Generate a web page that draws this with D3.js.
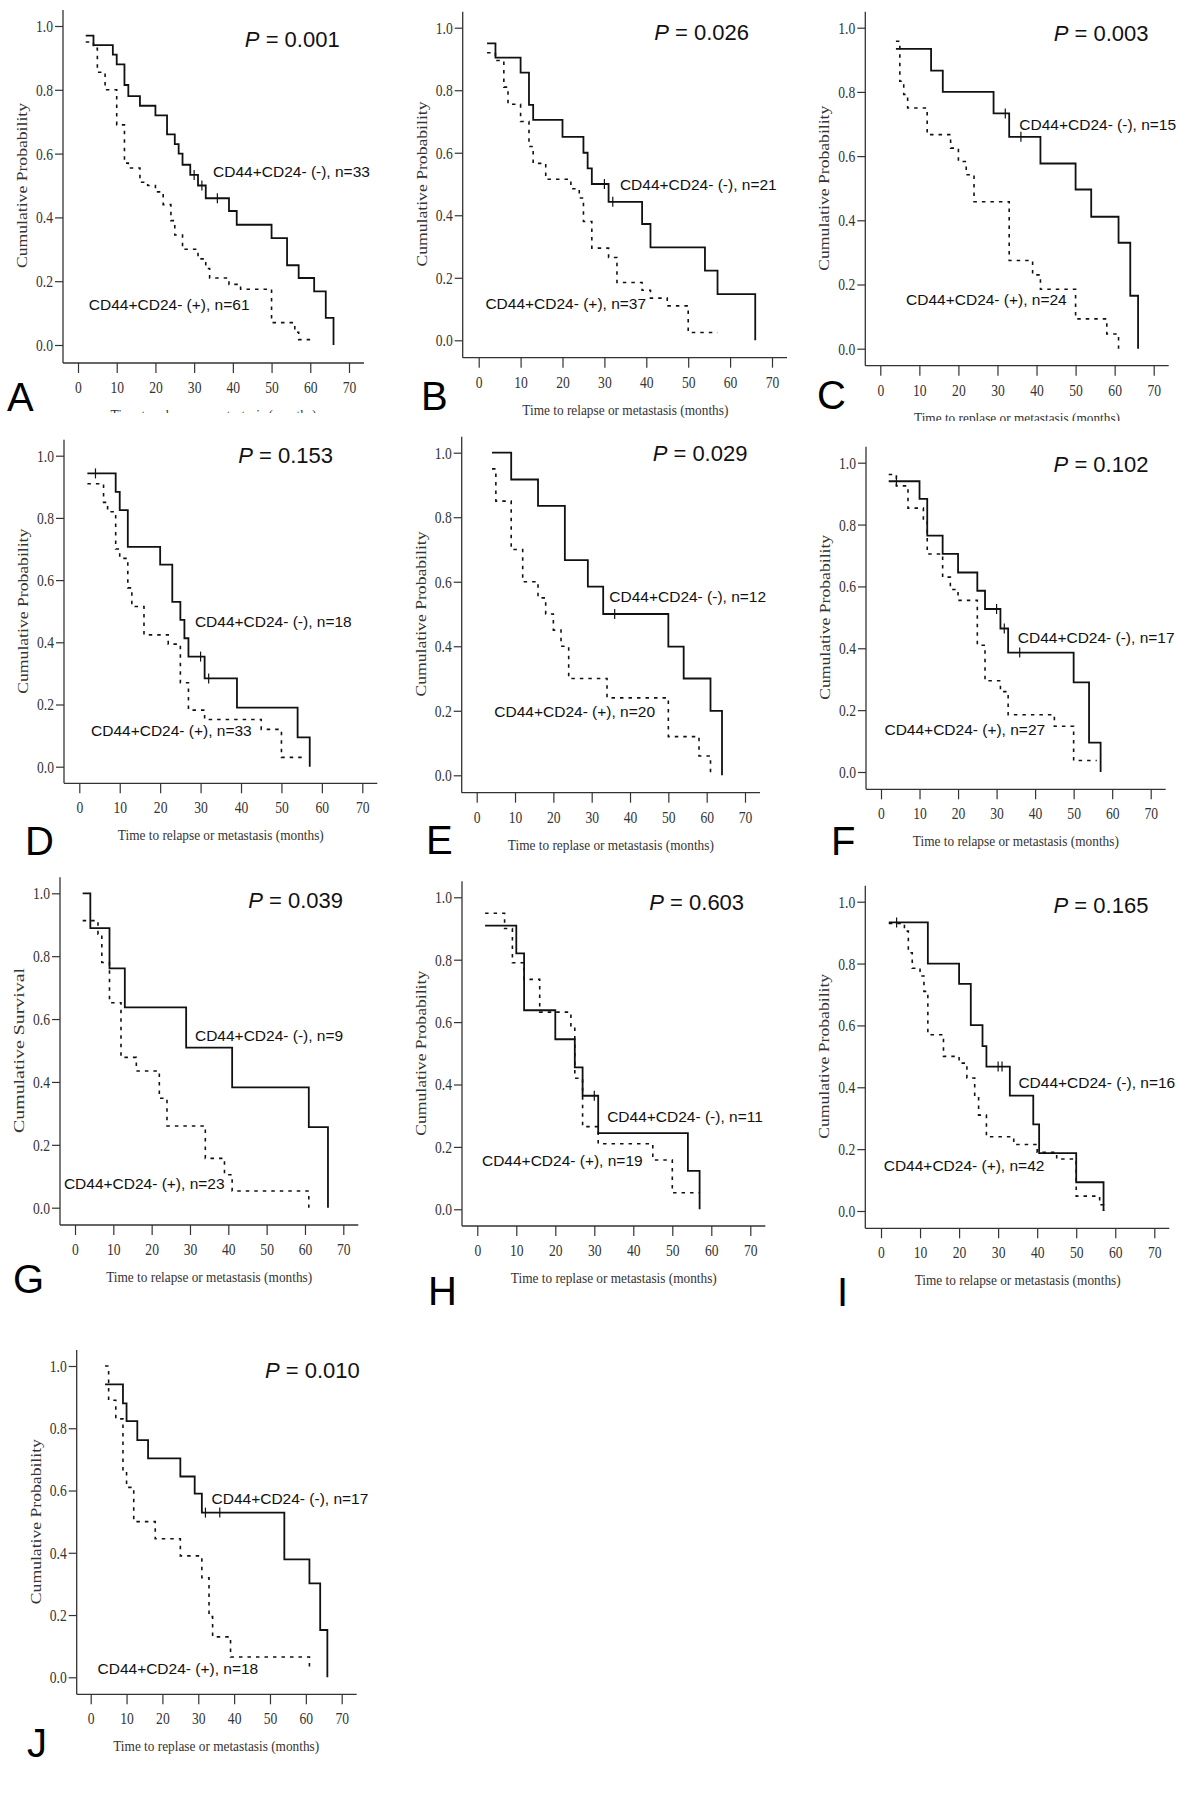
<!DOCTYPE html>
<html>
<head>
<meta charset="utf-8">
<script src="https://cdn.jsdelivr.net/npm/d3@7"></script>
<style>
body{margin:0;background:#fff}
svg{display:block}
</style>
</head>
<body>
<svg id="fig" width="1200" height="1798"></svg>
<script>
"use strict";

//Kaplan-Meier steps: [months, cumulative probability after the step]
//"neg" is CD44+CD24- (-) drawn solid, "pos" is CD44+CD24- (+) drawn dashed
var stepsA_neg = [[2,0.97],[4,0.94],[9,0.91],[10,0.88],[12,0.815],[13,0.78],[16,0.75],[20,0.72],[23,0.66],[25,0.63],[26,0.60],[27,0.565],[29,0.533],[31,0.50],[33,0.46],[39,0.42],[41,0.377],[50,0.335],[54,0.25],[57,0.21],[61,0.168],[64,0.085],[66,0]];
var stepsA_pos = [[2,0.95],[4,0.93],[5,0.855],[7,0.80],[10,0.69],[12,0.57],[13,0.555],[16,0.51],[18,0.50],[20,0.48],[22,0.44],[24,0.39],[25,0.345],[27,0.30],[31,0.27],[33,0.24],[34,0.21],[39,0.19],[42,0.175],[50,0.07],[56,0.04],[57,0.017],[61,0.017]];
var censA_neg = [[30,0.533],[32,0.50],[36,0.46]];

var stepsB_neg = [[2,0.95],[4,0.904],[10,0.856],[12,0.753],[13,0.705],[20,0.651],[25,0.60],[26,0.55],[27,0.50],[31,0.443],[39,0.372],[41,0.297],[54,0.223],[57,0.148],[66,0]];
var stepsB_pos = [[2,0.92],[4,0.895],[6,0.81],[7,0.755],[10,0.70],[12,0.62],[13,0.566],[16,0.515],[22,0.485],[24,0.455],[25,0.38],[27,0.295],[31,0.265],[33,0.185],[39,0.16],[41,0.135],[45,0.11],[50,0.025],[57,0.025]];
var censB_neg = [[30,0.50],[32,0.443]];

var stepsC_neg = [[4,0.934],[13,0.866],[16,0.80],[29,0.733],[33,0.66],[41,0.577],[50,0.496],[54,0.411],[61,0.33],[64,0.165],[66,0]];
var stepsC_pos = [[4,0.958],[5,0.833],[6,0.792],[7,0.75],[12,0.667],[18,0.625],[20,0.583],[22,0.542],[24,0.458],[33,0.275],[39,0.23],[41,0.185],[50,0.093],[58,0.046],[61,0]];
var censC_neg = [[32,0.733],[36,0.66]];

var stepsD_neg = [[2,0.943],[9,0.884],[10,0.825],[12,0.707],[20,0.65],[23,0.53],[25,0.472],[26,0.413],[27,0.354],[31,0.284],[39,0.19],[54,0.094],[57,0]];
var stepsD_pos = [[2,0.91],[6,0.85],[7,0.82],[9,0.70],[10,0.67],[12,0.575],[13,0.515],[16,0.424],[22,0.394],[25,0.27],[27,0.182],[31,0.152],[45,0.12],[50,0.03],[56,0.03]];
var censD_neg = [[4,0.943],[30,0.354],[32,0.284]];

var stepsE_neg = [[4,1.0],[9,0.917],[16,0.835],[23,0.667],[29,0.585],[33,0.50],[50,0.399],[54,0.30],[61,0.20],[64,0]];
var stepsE_pos = [[4,0.95],[5,0.85],[9,0.70],[12,0.60],[16,0.55],[18,0.50],[20,0.45],[22,0.40],[24,0.30],[34,0.24],[50,0.12],[58,0.06],[61,0]];
var censE_neg = [[36,0.50]];

var stepsF_neg = [[2,0.94],[10,0.883],[12,0.764],[16,0.705],[20,0.645],[25,0.586],[27,0.527],[31,0.464],[33,0.386],[50,0.29],[54,0.095],[57,0]];
var stepsF_pos = [[2,0.962],[4,0.925],[7,0.853],[11,0.815],[12,0.705],[16,0.63],[18,0.59],[20,0.555],[25,0.41],[27,0.295],[31,0.26],[33,0.185],[45,0.148],[50,0.037],[56,0.037]];
var censF_neg = [[4,0.94],[30,0.527],[32,0.464],[36,0.386]];

var stepsG_neg = [[2,1.0],[4,0.889],[9,0.761],[13,0.637],[29,0.509],[41,0.383],[61,0.256],[66,0]];
var stepsG_pos = [[2,0.913],[6,0.87],[7,0.78],[9,0.652],[12,0.478],[16,0.435],[22,0.348],[24,0.26],[34,0.157],[39,0.105],[41,0.053],[61,0]];
var censG_neg = [];

var stepsH_neg = [[2,0.909],[10,0.82],[12,0.638],[20,0.545],[25,0.455],[27,0.364],[31,0.244],[54,0.123],[57,0]];
var stepsH_pos = [[2,0.949],[7,0.90],[9,0.79],[12,0.737],[16,0.632],[24,0.58],[25,0.42],[27,0.265],[31,0.21],[45,0.158],[50,0.053],[57,0.053]];
var censH_neg = [[30,0.364]];

var stepsI_neg = [[2,0.933],[12,0.80],[20,0.734],[23,0.601],[26,0.533],[27,0.467],[33,0.373],[39,0.28],[40.5,0.187],[50,0.093],[57,0]];
var stepsI_pos = [[2,0.93],[6,0.905],[7,0.835],[8,0.785],[10,0.76],[11,0.71],[12,0.57],[16,0.50],[20,0.478],[22,0.43],[24,0.37],[25,0.31],[27,0.24],[34,0.215],[40,0.19],[45,0.168],[50,0.048],[56,0.02],[57,0]];
var censI_neg = [[4,0.933],[30,0.467],[31,0.467]];

var stepsJ_neg = [[4,0.941],[9,0.88],[10,0.823],[13,0.762],[16,0.703],[25,0.645],[29,0.59],[31,0.529],[54,0.379],[61,0.302],[64,0.152],[66,0]];
var stepsJ_pos = [[4,1.0],[5,0.89],[7,0.83],[9,0.66],[10,0.61],[12,0.50],[18,0.445],[25,0.39],[31,0.32],[33,0.195],[34,0.13],[39,0.065],[61,0.02]];
var censJ_neg = [[32,0.529],[36,0.529]];

var panelLetters = ["A","B","C","D","E","F","G","H","I","J"];
var pValues = ["0.001","0.026","0.003","0.153","0.029","0.102","0.039","0.603","0.165","0.010"];
var nNeg = [33,21,15,18,12,17,9,11,16,17];
var nPos = [61,37,24,33,20,27,23,19,42,18];
var xTicks = [0,10,20,30,40,50,60,70];
var yTicks = [0,0.2,0.4,0.6,0.8,1.0];
var yTitles = ["Cumulative Probability","Cumulative Probability","Cumulative Probability","Cumulative Probability","Cumulative Probability","Cumulative Probability","Cumulative Survival","Cumulative Probability","Cumulative Probability","Cumulative Probability"];
var xTitles = ["Time to relapse or metastasis (months)","Time to relapse or metastasis (months)","Time to replase or metastasis (months)","Time to relapse or metastasis (months)","Time to replase or metastasis (months)","Time to relapse or metastasis (months)","Time to relapse or metastasis (months)","Time to replase or metastasis (months)","Time to relapse or metastasis (months)","Time to replase or metastasis (months)"];

//where each panel sits on the page (pixels) and where its labels go (in data units)
var layout = [
	{axX:63,    axY:363,    xr:[78,349],       yr:[345,26],       letter:[7,411],    clip:413, neg:[34.9,0.527], pos:[2.8,0.11],  p:[43.1,0.934]},
	{axX:462.7, axY:357.7,  xr:[478.7,772],    yr:[340.3,27.7],   letter:[421,410],  clip:null, neg:[33.7,0.48], pos:[1.6,0.10],  p:[41.9,0.96]},
	{axX:865.3, axY:365.7,  xr:[880.3,1153.7], yr:[348.7,27.7],   letter:[817,409],  clip:421, neg:[35.6,0.681], pos:[6.6,0.136], p:[44.4,0.96]},
	{axX:64,    axY:783.3,  xr:[79.3,362.3],   yr:[766.7,455.7],  letter:[25,855],   clip:null, neg:[28.6,0.448], pos:[2.9,0.099], p:[39.3,0.976]},
	{axX:461.7, axY:792.7,  xr:[476.7,745],    yr:[775.3,452.7],  letter:[426,854],  clip:null, neg:[34.6,0.536], pos:[4.6,0.18],  p:[45.9,0.975]},
	{axX:866,   axY:789.3,  xr:[881,1150.7],   yr:[772,462.7],    letter:[831,855],  clip:null, neg:[35.5,0.416], pos:[0.9,0.12],  p:[44.8,0.969]},
	{axX:60,    axY:1225,   xr:[75,343.3],     yr:[1207.7,893.3], letter:[13,1293],  clip:null, neg:[31.3,0.531], pos:[-2.9,0.058], p:[45.2,0.953]},
	{axX:462,   axY:1226,   xr:[477.3,750.3],  yr:[1209.3,897.3], letter:[428,1305], clip:null, neg:[33.3,0.281], pos:[1.2,0.139], p:[44.1,0.959]},
	{axX:865.3, axY:1228.3, xr:[881,1154.3],   yr:[1211,901.7],   letter:[837,1306], clip:null, neg:[35.2,0.397], pos:[0.7,0.13],  p:[44.2,0.964]},
	{axX:76.7,  axY:1694.3, xr:[90.7,341.7],   yr:[1677.3,1366],  letter:[27,1757],  clip:null, neg:[33.7,0.556], pos:[1.9,0.011], p:[48.6,0.96]}
];

var stepsNeg = [stepsA_neg,stepsB_neg,stepsC_neg,stepsD_neg,stepsE_neg,stepsF_neg,stepsG_neg,stepsH_neg,stepsI_neg,stepsJ_neg];
var stepsPos = [stepsA_pos,stepsB_pos,stepsC_pos,stepsD_pos,stepsE_pos,stepsF_pos,stepsG_pos,stepsH_pos,stepsI_pos,stepsJ_pos];
var censNeg = [censA_neg,censB_neg,censC_neg,censD_neg,censE_neg,censF_neg,censG_neg,censH_neg,censI_neg,censJ_neg];

var svg = d3.select("#fig");
var serif = "'Liberation Serif','DejaVu Serif',serif";
var sans = "'Liberation Sans',Arial,sans-serif";
var squeeze = 0.8;

function drawPanel(i){
	var p = layout[i];
	var g = svg.append("g");

	//a couple of panels are covered at the bottom by the row below in the original
	if(p.clip){
		svg.append("clipPath").attr("id", "clip" + i)
			.append("rect").attr("x", 0).attr("y", 0).attr("width", 1200).attr("height", p.clip);
		g.attr("clip-path", "url(#clip" + i + ")");
	}

	var x = d3.scaleLinear().domain([0, 70]).range(p.xr);
	var y = d3.scaleLinear().domain([0, 1]).range(p.yr);

	//axis frame lines, longer than the data range like SPSS draws them
	g.append("line")
		.attr("x1", p.axX).attr("x2", p.axX)
		.attr("y1", y(1) - 16).attr("y2", p.axY)
		.style("stroke", "#333").style("stroke-width", "1.3px");
	g.append("line")
		.attr("x1", p.axX).attr("x2", x(70) + 15)
		.attr("y1", p.axY).attr("y2", p.axY)
		.style("stroke", "#333").style("stroke-width", "1.3px");

	var yAxis = g.append("g")
		.attr("transform", "translate(" + p.axX + ",0)")
		.call(d3.axisLeft(y).tickValues(yTicks).tickFormat(d3.format(".1f")).tickSize(8).tickPadding(2));
	var xAxis = g.append("g")
		.attr("transform", "translate(0," + p.axY + ")")
		.call(d3.axisBottom(x).tickValues(xTicks).tickFormat(d3.format("d")).tickSize(10).tickPadding(8));

	[yAxis, xAxis].forEach(function(a){
		a.select(".domain").remove();
		a.attr("font-family", serif).attr("font-size", 17);
		a.selectAll(".tick line").style("stroke", "#333").style("stroke-width", "1.2px");
		a.selectAll(".tick text").style("fill", "#333").attr("transform", "scale(" + squeeze + ",1)");
	});
	yAxis.selectAll(".tick text").attr("x", -10 / squeeze);

	//axis titles
	g.append("text")
		.attr("transform", "translate(" + (p.axX - 36) + "," + y(0.5) + ") rotate(-90)")
		.attr("text-anchor", "middle")
		.attr("textLength", 165).attr("lengthAdjust", "spacingAndGlyphs")
		.style("font-family", serif).style("font-size", "14px").style("fill", "#333")
		.text(yTitles[i]);
	g.append("text")
		.attr("x", x(35)).attr("y", p.axY + 57)
		.attr("text-anchor", "middle")
		.attr("textLength", 206).attr("lengthAdjust", "spacingAndGlyphs")
		.style("font-family", serif).style("font-size", "15px").style("fill", "#333")
		.text(xTitles[i]);

	//survival curves
	var line = d3.line()
		.x(function(d){ return x(d[0]); })
		.y(function(d){ return y(d[1]); })
		.curve(d3.curveStepAfter);

	g.append("path")
		.datum(stepsPos[i])
		.attr("d", line)
		.style("fill", "none").style("stroke", "#111")
		.style("stroke-width", "1.6px").style("stroke-dasharray", "3.5,5");
	g.append("path")
		.datum(stepsNeg[i])
		.attr("d", line)
		.style("fill", "none").style("stroke", "#111")
		.style("stroke-width", "1.8px");

	//censor ticks
	g.selectAll(".cens")
		.data(censNeg[i])
		.enter()
		.append("line")
		.attr("x1", function(d){ return x(d[0]); })
		.attr("x2", function(d){ return x(d[0]); })
		.attr("y1", function(d){ return y(d[1]) - 5; })
		.attr("y2", function(d){ return y(d[1]) + 5; })
		.style("stroke", "#111").style("stroke-width", "1.2px");

	//group labels
	g.append("text")
		.attr("x", x(p.neg[0])).attr("y", y(p.neg[1]))
		.style("font-family", sans).style("font-size", "15.5px").style("fill", "#111")
		.text("CD44+CD24- (-), n=" + nNeg[i]);
	g.append("text")
		.attr("x", x(p.pos[0])).attr("y", y(p.pos[1]))
		.style("font-family", sans).style("font-size", "15.5px").style("fill", "#111")
		.text("CD44+CD24- (+), n=" + nPos[i]);

	//P value
	var pt = g.append("text")
		.attr("x", x(p.p[0])).attr("y", y(p.p[1]))
		.style("font-family", sans).style("font-size", "22px").style("fill", "#111");
	pt.append("tspan").style("font-style", "italic").text("P");
	pt.append("tspan").text(" = " + pValues[i]);

	//panel letter
	svg.append("text")
		.attr("x", p.letter[0]).attr("y", p.letter[1])
		.style("font-family", sans).style("font-size", "40px").style("fill", "#000")
		.text(panelLetters[i]);
}

for(var i = 0; i < layout.length; i++){
	drawPanel(i);
}
</script>
</body>
</html>
